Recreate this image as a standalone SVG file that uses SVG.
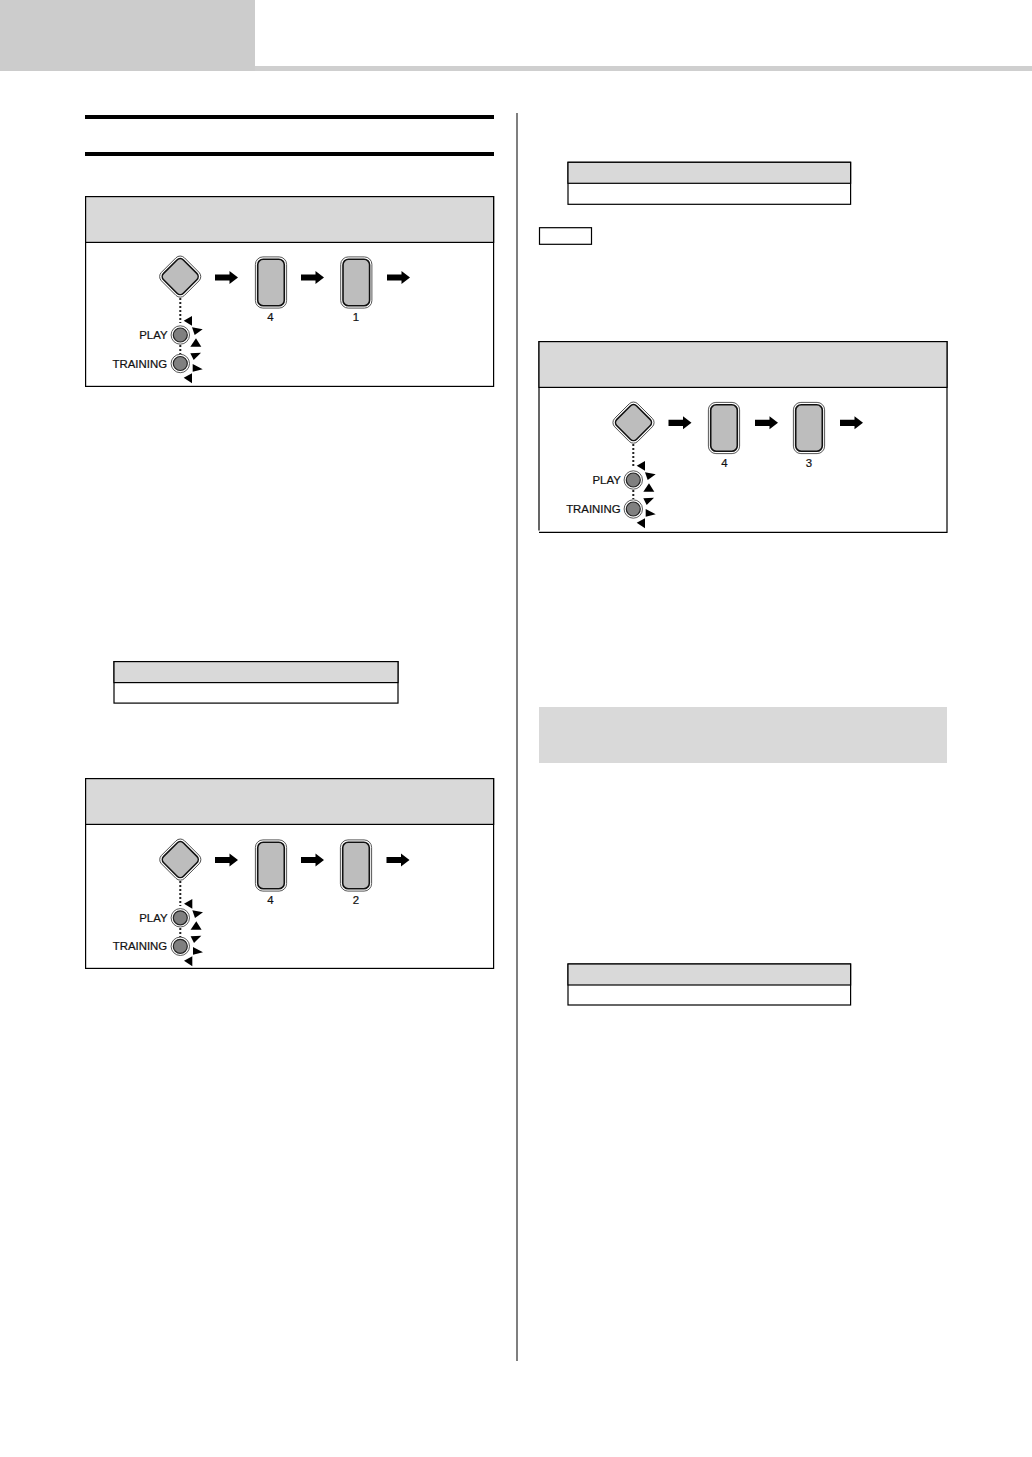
<svg xmlns="http://www.w3.org/2000/svg" width="1032" height="1457" viewBox="0 0 1032 1457">
<style>
.box{fill:#fff;stroke:#000;stroke-width:1.2}
.hdr{fill:#d9d9d9;stroke:#000;stroke-width:1.2}
.tbl{fill:#fff;stroke:#000;stroke-width:1.2}
.thd{fill:#d9d9d9;stroke:#000;stroke-width:1.2}
.lbl{font-family:"Liberation Sans",Arial,sans-serif;font-size:11.4px;fill:#111;stroke:#111;stroke-width:.22}
.end{text-anchor:end}
.mid{text-anchor:middle}
.dot{stroke:#222;stroke-width:2;stroke-dasharray:2 2;fill:none}
</style>
<defs>
<g id="diamond">
<rect x="-16.3" y="-16.3" width="32.6" height="32.6" rx="6" transform="rotate(45)" fill="#fff" stroke="#444" stroke-width="0.9"/>
<rect x="-14" y="-14" width="28" height="28" rx="4.5" transform="rotate(45)" fill="#bdbdbd" stroke="#111" stroke-width="1.6"/>
</g>
<g id="button">
<rect x="-15.6" y="-25.6" width="31.200" height="51.200" rx="7.500" fill="#fff" stroke="#444" stroke-width="0.9"/>
<rect x="-13.3" y="-23.3" width="26.6" height="46.6" rx="5.500" fill="#bdbdbd" stroke="#111" stroke-width="1.6"/>
</g>
<g id="led">
<circle r="9.2" fill="#fff" stroke="#444" stroke-width="0.9"/>
<circle r="7" fill="#808080" stroke="#222" stroke-width="1.2"/>
</g>
<polygon id="arrow" points="0,-3.1 14.500,-3.1 14.500,-6.5 23,0 14.500,6.5 14.500,3.1 0,3.1" fill="#000"/>
<g id="rays">
<polygon points="3.7,43.7 12,39 12,48.7"/>
<polygon points="12,50.3 22.7,52.3 14.7,58"/>
<polygon points="10.3,69.7 16,61.3 21.300,69.7"/>
<polygon points="10.3,76.3 21,75.700 13.7,83"/>
<polygon points="12.7,87 22.7,92.3 12.7,94.7"/>
<polygon points="3.7,100.7 12,96.3 12,106.3"/>
</g>
</defs>

<g id="page-header">
<rect x="0" y="0" width="255" height="71" fill="#cccccc"/>
<rect x="255" y="66" width="777" height="5" fill="#cfcfcf"/>
</g>
<g id="section-rules">
<rect x="85" y="115" width="409" height="4" fill="#000"/>
<rect x="85" y="152" width="409" height="4" fill="#000"/>
<rect x="516.5" y="113" width="1" height="1248" fill="#000"/>
</g>

<g id="panel-1">
<rect class="box" x="85.6" y="196.6" width="408" height="189.8"/>
<rect class="hdr" x="85.6" y="196.6" width="408" height="45.8"/>
</g>
<g id="panel-1-mode"><use href="#diamond" x="180.2" y="276.6"/></g>
<g id="panel-1-key-4"><use href="#button" x="271" y="282.5"/><text class="lbl mid" x="270.5" y="320.5">4</text></g>
<g id="panel-1-key-1"><use href="#button" x="356.3" y="282.5"/><text class="lbl mid" x="356" y="320.5">1</text></g>
<g id="panel-1-play"><use href="#led" x="180.3" y="335"/><text class="lbl end" x="167.5" y="338.8">PLAY</text></g>
<g id="panel-1-training"><use href="#led" x="180.3" y="363.5"/><text class="lbl end" x="167" y="367.6">TRAINING</text></g>
<g id="panel-1-rays"><use href="#rays" x="180" y="277"/></g>

<g id="table-1">
<rect class="tbl" x="114" y="661.6" width="284" height="41.5"/>
<rect class="thd" x="114" y="661.6" width="284" height="21"/>
</g>

<g id="panel-2">
<rect class="box" x="85.6" y="778.6" width="408" height="189.8"/>
<rect class="hdr" x="85.6" y="778.6" width="408" height="45.8"/>
</g>
<g id="panel-2-mode"><use href="#diamond" x="180.3" y="859.6"/></g>
<g id="panel-2-key-4"><use href="#button" x="271" y="865.5"/><text class="lbl mid" x="270.3" y="903.5">4</text></g>
<g id="panel-2-key-2"><use href="#button" x="356" y="865.5"/><text class="lbl mid" x="356" y="903.5">2</text></g>
<g id="panel-2-play"><use href="#led" x="180.3" y="917.8"/><text class="lbl end" x="167.5" y="921.7">PLAY</text></g>
<g id="panel-2-training"><use href="#led" x="180.3" y="946.3"/><text class="lbl end" x="167.2" y="950.4">TRAINING</text></g>
<g id="panel-2-rays"><use href="#rays" x="180.3" y="860"/></g>

<g id="table-2">
<rect class="tbl" x="568" y="162.3" width="282.6" height="42"/>
<rect class="thd" x="568" y="162.3" width="282.6" height="21"/>
</g>
<g id="note-box"><rect class="tbl" x="539.5" y="227.7" width="52" height="16.6"/></g>

<g id="panel-3">
<path class="box" d="M539 530.500V341.6H947V532.400H539"/>
<rect class="hdr" x="539" y="341.6" width="408" height="45.8"/>
</g>
<g id="panel-3-mode"><use href="#diamond" x="633.5" y="422.6"/></g>
<g id="panel-3-key-4"><use href="#button" x="724" y="428"/><text class="lbl mid" x="724.3" y="466.5">4</text></g>
<g id="panel-3-key-3"><use href="#button" x="809" y="428"/><text class="lbl mid" x="809" y="466.5">3</text></g>
<g id="panel-3-play"><use href="#led" x="633.3" y="480"/><text class="lbl end" x="620.8" y="484.3">PLAY</text></g>
<g id="panel-3-training"><use href="#led" x="633.3" y="509"/><text class="lbl end" x="620.6" y="513.3">TRAINING</text></g>
<g id="panel-3-rays"><use href="#rays" x="633" y="422"/></g>

<g id="grey-panel"><rect x="539" y="707" width="408" height="56" fill="#d9d9d9"/></g>

<g id="table-3">
<rect class="tbl" x="568" y="964" width="282.6" height="41"/>
<rect class="thd" x="568" y="964" width="282.6" height="21"/>
</g>

<g id="connectors">
<use href="#arrow" x="215" y="277.5"/><use href="#arrow" x="301" y="277.5"/><use href="#arrow" x="387" y="277.5"/>
<path class="dot" d="M180.3 298V323M180.3 345V354"/>
<use href="#arrow" x="215" y="860"/><use href="#arrow" x="301" y="860"/><use href="#arrow" x="386.500" y="860"/>
<path class="dot" d="M180.3 881V906M180.3 928V937"/>
<use href="#arrow" x="668.5" y="422.8"/><use href="#arrow" x="755" y="422.8"/><use href="#arrow" x="840" y="422.8"/>
<path class="dot" d="M633.3 444V468M633.3 490V499"/>
</g>
</svg>
